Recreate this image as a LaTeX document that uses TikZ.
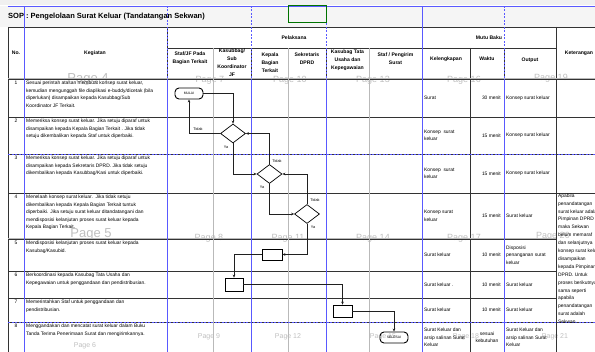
\documentclass[tikz,border=0pt]{standalone}
\usepackage{fontspec}
\setmainfont{Liberation Sans}
\usetikzlibrary{shapes.geometric,arrows.meta}

\tikzset{
  cell/.style={gray!40!black, line width=0.45pt},
  cellthick/.style={gray!55, line width=1pt},
  brk/.style={blue!65!white, line width=0.6pt},
  brkdash/.style={brk, dash pattern=on 2pt off 1.5pt},
  pagelbl/.style={text=gray!50, inner sep=0pt},
  hdr/.style={font=\fontsize{5.1}{8}\selectfont\bfseries, align=center, inner sep=0pt},
  txt/.style={font=\fontsize{4.9}{7.5}\selectfont, align=left, inner sep=0pt},
  terminal/.style={draw, line width=0.9pt, rounded corners=4pt, minimum width=28pt,
    minimum height=11pt, inner sep=0pt, font=\fontsize{3.4}{4}\selectfont},
  decision/.style={draw, diamond, line width=0.7pt, minimum width=25pt,
    minimum height=19pt, inner sep=0pt},
  process/.style={draw, line width=0.7pt, inner sep=0pt},
  flow/.style={line width=0.7pt, gray!25!black, -{Stealth[length=3pt,width=2.6pt]}},
  lbl/.style={font=\fontsize{3.8}{4}\selectfont, inner sep=0pt},
}

\begin{document}
\begin{tikzpicture}[x=1pt,y=-1pt]
  \useasboundingbox (0,0) rectangle (595,352);
  \clip (0,0) rectangle (595,352);

  % excel bands
  \fill[gray!12] (0,0) rectangle (595,5);
  \fill[gray!8] (0,6) rectangle (595,27);

  % page labels
  \foreach \x/\y/\s/\t in {88/79/13/4, 210/80/9/7, 290/80/9/10, 373/80/9/13, 464/80/9/16,
      551/78/9/19, 91/234/13/5, 209/238/9/8, 288/238/9/11, 373/238/9/14, 464/238/9/17,
      553/236/9/20, 85/346/7/6, 209/337/7/9, 288/337/7/12, 383/337/7/15, 466/337/7/18,
      555/337/7/21}
    \node[pagelbl, font=\fontsize{\s}{\s}\selectfont] (pg\t) at (\x,\y) {Page \t};

  % grid
  \foreach \y in {27,79,117,154,193,322}
    \draw[cell] (8,\y) -- (600,\y);
  \foreach \y in {239,271,298}
    \draw[cell] (8,\y) -- (556,\y);
  \draw[cell] (167,48) -- (556,48);
  \foreach \x in {8,24,167,422,556}
    \draw[cell] (\x,27) -- (\x,352);
  \foreach \x in {251,326,470,504}
    \draw[cell] (\x,48) -- (\x,352);
  \foreach \x in {213,288,369}
    \draw[cellthick] (\x,48) -- (\x,352);
  \draw[cellthick] (8,79) -- (600,79);
  \draw[cellthick] (8,239) -- (556,239);

  % page breaks
  \draw[brk] (8,6) -- (600,6);
  \foreach \x in {24,422}
    \draw[brk] (\x,6) -- (\x,352);
  \foreach \x in {167,251,326,504} {
    \draw[brkdash] (\x,6) -- (\x,79);
    \draw[brk] (\x,79) -- (\x,352);
  }
  \draw[brkdash] (8,154) -- (600,154);
  \draw[brkdash] (8,322) -- (600,322);

  % selected cell
  \draw[green!45!black, line width=1pt] (288,5.5) rectangle (326,23);

  % title and headers
  \node[anchor=west, inner sep=0pt, font=\fontsize{7.5}{8}\selectfont\bfseries] (title) at (8,16.5)
    {SOP : Pengelolaan Surat Keluar (Tandatangan Sekwan)};
  \node[hdr] (hno) at (16,53) {No.};
  \node[hdr] (hkeg) at (95,53) {Kegiatan};
  \node[hdr] (hpel) at (294,38) {Pelaksana};
  \node[hdr] (hmutu) at (489,38) {Mutu Baku};
  \node[hdr] (hket) at (579,53) {Keterangan};
  \node[hdr] (hstaf) at (190,58.5) {Staf/JF Pada\\Bagian Terkait};
  \node[hdr] (hkasub) at (232,62.5) {Kasubbag/\\Sub\\Koordinator\\JF};
  \node[hdr] (hkabag) at (270,63) {Kepala\\Bagian\\Terkait};
  \node[hdr] (hsekr) at (307,58.5) {Sekretaris\\DPRD};
  \node[hdr] (hktu) at (347.5,60) {Kasubag Tata\\Usaha dan\\Kepegawaian};
  \node[hdr] (hkirim) at (395.5,58.5) {Staf / Pengirim\\Surat};
  \node[hdr] (hleng) at (446,59) {Kelengkapan};
  \node[hdr] (hwkt) at (487,59) {Waktu};
  \node[hdr] (hout) at (530,60) {Output};

  % kegiatan
  \foreach \n/\y in {1/79,2/117,3/154,4/193,5/239,6/271,7/298,8/322}
    \node[txt, anchor=north] (no\n) at (16,\y+1.8) {\n};
  \node[txt, anchor=north west] (keg1) at (26,80.8)
    {Sesuai perintah atasan membuat konsep surat keluar,\\kemudian mengunggah file diaplikasi e-buddy/dicetak (bila\\diperlukan) disampaikan kepada Kasubbag/Sub\\Koordinator JF Terkait.};
  \node[txt, anchor=north west] (keg2) at (26,118.8)
    {Memeriksa konsep surat keluar. Jika setuju diparaf untuk\\disampaikan kepada Kepala Bagian Terkait . Jika tidak\\setuju dikembalikan kepada Staf untuk diperbaiki.};
  \node[txt, anchor=north west] (keg3) at (26,155.8)
    {Memeriksa konsep surat keluar. Jika setuju diparaf untuk\\disampaikan kepada Sekretaris DPRD. Jika tidak setuju\\dikembalikan kepada Kasubbag/Kasi untuk diperbaiki.};
  \node[txt, anchor=north west] (keg4) at (26,194.8)
    {Menelaah konsep surat keluar.\ \ Jika tidak setuju\\dikembalikan kepada Kepala Bagian Terkait tuntuk\\diperbaiki. Jika setuju surat keluar ditandatangani dan\\mendisposisi kelanjutan proses surat keluar kepada\\Kepala Bagian Terkait.};
  \node[txt, anchor=north west] (keg5) at (26,240.8)
    {Mendisposisi kelanjutan proses surat keluar kepada\\Kasubag/Kasubid.};
  \node[txt, anchor=north west] (keg6) at (26,272.8)
    {Berkoordinasi kepada Kasubag Tata Usaha dan\\Kepegawaian untuk penggandaan dan pendistribusian.};
  \node[txt, anchor=north west] (keg7) at (26,299.8)
    {Memerintahkan Staf untuk penggandaan dan\\pendistribusian.};
  \node[txt, anchor=north west] (keg8) at (26,323.8)
    {Menggandakan dan mencatat surat keluar dalam Buku\\Tanda Terima Penerimaan Surat dan mengirimkannya.};

  % mutu baku
  \foreach \n/\y/\leng/\wkt/\out in {
      1/98/{Surat}/{30 menit}/{Konsep surat keluar},
      2/135.5/{Konsep\ \ surat\\keluar}/{15 menit}/{Konsep surat keluar},
      3/173.5/{Konsep\ \ surat\\keluar}/{15 menit}/{Konsep surat keluar},
      4/216/{Konsep surat\\keluar}/{15 menit}/{Surat keluar},
      5/255/{Surat keluar}/{10 menit}/{Disposisi\\penanganan surat\\keluar},
      6/284.5/{Surat keluar .}/{10 menit}/{Surat keluar},
      7/310/{Surat keluar}/{10 menit}/{Surat keluar}} {
    \node[txt, anchor=west] (leng\n) at (424,\y) {\leng};
    \node[txt, anchor=east] (wkt\n) at (501,\y) {\wkt};
    \node[txt, anchor=west] (out\n) at (506,\y) {\out};
  }
  \node[txt, anchor=west] (leng8) at (424,337.5) {Surat Keluar dan\\arsip salinan Surat\\Keluar};
  \node[txt, align=center] (wkt8) at (487,337.5) {sesuai\\kebutuhan};
  \node[txt, anchor=west] (out8) at (506,337.5) {Surat Keluar dan\\arsip salinan Surat\\Keluar};
  \node[txt, anchor=north west, font=\fontsize{4.9}{7.9}\selectfont] (ket4) at (558,193.5)
    {Apabila\\penandatangan\\surat keluar adalah\\Pimpinan DPRD\\maka Sekwan\\belum memaraf\\dan selanjutnya\\konsep surat keluar\\disampaikan\\kepada Pimpinan\\DPRD. Untuk\\proses berikutnya\\sama seperti\\apabila\\penandatangan\\surat adalah\\Sekwan.};

  % flowchart
  \node[terminal] (mulai) at (189,93.5) {MULAI};
  \node[decision] (d1) at (233,133.5) {};
  \node[decision] (d2) at (269.5,174) {};
  \node[decision] (d3) at (307,214) {};
  \node[process, minimum width=20pt, minimum height=11pt] (p1) at (272,254.5) {};
  \node[process, minimum width=18pt, minimum height=13pt] (p2) at (234,284.5) {};
  \node[process, minimum width=19pt, minimum height=12pt] (p3) at (342.5,311) {};
  \node[terminal] (selesai) at (394,337.5) {SELESAI};

  \draw[flow] (mulai.east) -| (d1.north);
  \draw[flow] (d1.west) -| (mulai.south);
  \draw[flow] (d1.south) |- (d2.west);
  \draw[flow] (d2.north) |- (d1.east);
  \draw[flow] (d2.south) |- (d3.west);
  \draw[flow] (d3.north) |- (d2.east);
  \draw[flow] (d3.south) |- (p1.east);
  \draw[flow] (p1.west) -| (p2.north);
  \draw[flow] (p2.east) -| (p3.north);
  \draw[flow] (p3.east) -| (selesai.north);

  \node[lbl] (t1) at (198,129) {Tidak};
  \node[lbl] (y1) at (226,147) {Ya};
  \node[lbl] (t2) at (277,161) {Tidak};
  \node[lbl] (y2) at (262,187) {Ya};
  \node[lbl] (t3) at (315,200) {Tidak};
  \node[lbl] (y3) at (313,227) {Ya};
\end{tikzpicture}
\end{document}
